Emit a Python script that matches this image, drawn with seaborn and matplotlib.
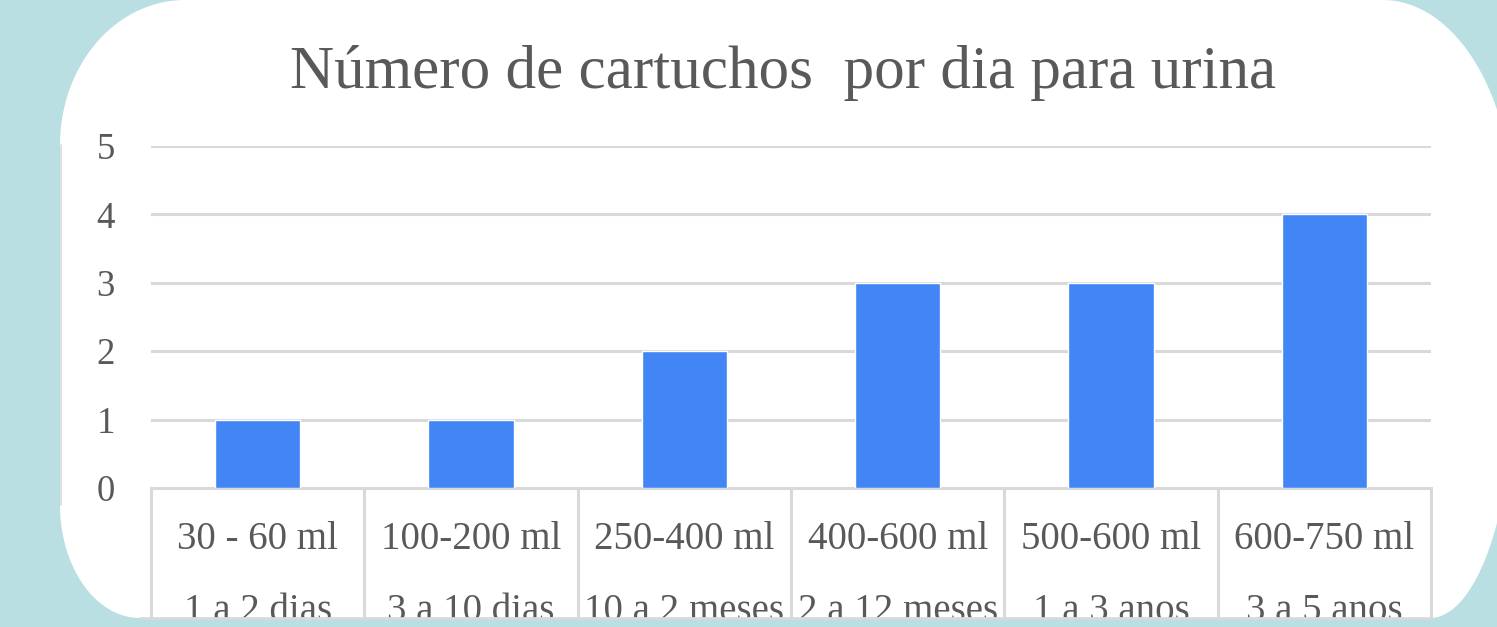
import numpy as np
import pandas as pd
import seaborn as sns
import matplotlib.pyplot as plt
from matplotlib.patches import Polygon, Rectangle
from matplotlib.lines import Line2D

volumes = ["30 - 60 ml", "100-200 ml", "250-400 ml", "400-600 ml", "500-600 ml", "600-750 ml"]
durations = ["1 a 2 dias", "3 a 10 dias", "10 a 2 meses", "2 a 12 meses", "1 a 3 anos", "3 a 5 anos"]
cartuchos = [1, 1, 2, 3, 3, 4]
title = "Número de cartuchos  por dia para urina"

bar_color = "#4285f4"
teal = "#b9dfe2"
grid_gray = "#d9d9d9"
text_gray = "#595959"
W, H = 1497, 627

sns.set_theme(style="white")
plt.rcParams['font.family'] = ['Liberation Serif', 'DejaVu Serif']

fig = plt.figure(figsize=(W / 100, H / 100), dpi=100)
fig.patch.set_facecolor(teal)


def corner(cx, cy, rx, ry, a0, a1):
    t = np.radians(np.linspace(a0, a1, 40))
    return np.column_stack([cx + rx * np.cos(t), cy + ry * np.sin(t)])


# white rounded panel (pixel coords, y down), elliptical corners
pts = np.vstack([
    corner(185, 145, 125, 145, 180, 270),      # top-left
    corner(1383, 211, 130, 211, 270, 360),     # top-right
    corner(1430, 386, 83, 232, 0, 90),         # bottom-right
    corner(140, 505, 80, 113, 90, 180),        # bottom-left
])
pts_fig = np.column_stack([pts[:, 0] / W, 1 - pts[:, 1] / H])
fig.add_artist(Polygon(pts_fig, closed=True, facecolor="white", edgecolor="none",
                       transform=fig.transFigure, zorder=-5))
fig.add_artist(Line2D([61 / W, 61 / W], [1 - 145 / H, 1 - 505 / H], color=grid_gray,
                      lw=1.2, transform=fig.transFigure, zorder=-4))

ax = fig.add_axes([151 / W, 139 / H, (1431 - 151) / W, (488 - 146) / H])
ax.set_facecolor("none")

df = pd.DataFrame({"volume": volumes, "n": cartuchos})
sns.barplot(data=df, x="volume", y="n", color=bar_color, saturation=1, width=0.4, ax=ax, zorder=3)

ax.set_xlim(-0.5, len(volumes) - 0.5)
ax.set_ylim(0, 5)
ax.set_yticks(range(0, 6))
ax.yaxis.grid(True, color=grid_gray, lw=2.2)
ax.set_axisbelow(True)
ax.tick_params(axis="y", length=0, pad=26, labelsize=26.5, labelcolor=text_gray)
ax.set_xticks([])
ax.set_xlabel("")
ax.set_ylabel("")
for s in ["top", "left", "right"]:
    ax.spines[s].set_visible(False)
ax.spines["bottom"].set_color(grid_gray)
ax.spines["bottom"].set_linewidth(2.2)

# category table below the axis
xt = ax.get_xaxis_transform()
for i in range(len(volumes) + 1):
    ax.plot([i - 0.5, i - 0.5], [0, -0.45], color=grid_gray, lw=2.2, transform=xt, clip_on=False)
for i, (v, d) in enumerate(zip(volumes, durations)):
    ax.text(i, -0.178, v, transform=xt, ha="center", va="baseline", fontsize=28, color=text_gray)
    ax.text(i, -0.39, d, transform=xt, ha="center", va="baseline", fontsize=28, color=text_gray)

fig.text(783 / W, 1 - 88 / H, title, ha="center", va="baseline", fontsize=44, color=text_gray)

# bottom crop of the panel
fig.add_artist(Rectangle((0, 0), 1, 1 - 619 / H, facecolor=teal, edgecolor="none",
                         transform=fig.transFigure, zorder=10))
fig.add_artist(Line2D([140 / W, 1430 / W], [1 - 618 / H, 1 - 618 / H], color=grid_gray,
                      lw=2, transform=fig.transFigure, zorder=11))

fig.savefig("out.png", dpi=100, facecolor=teal)
